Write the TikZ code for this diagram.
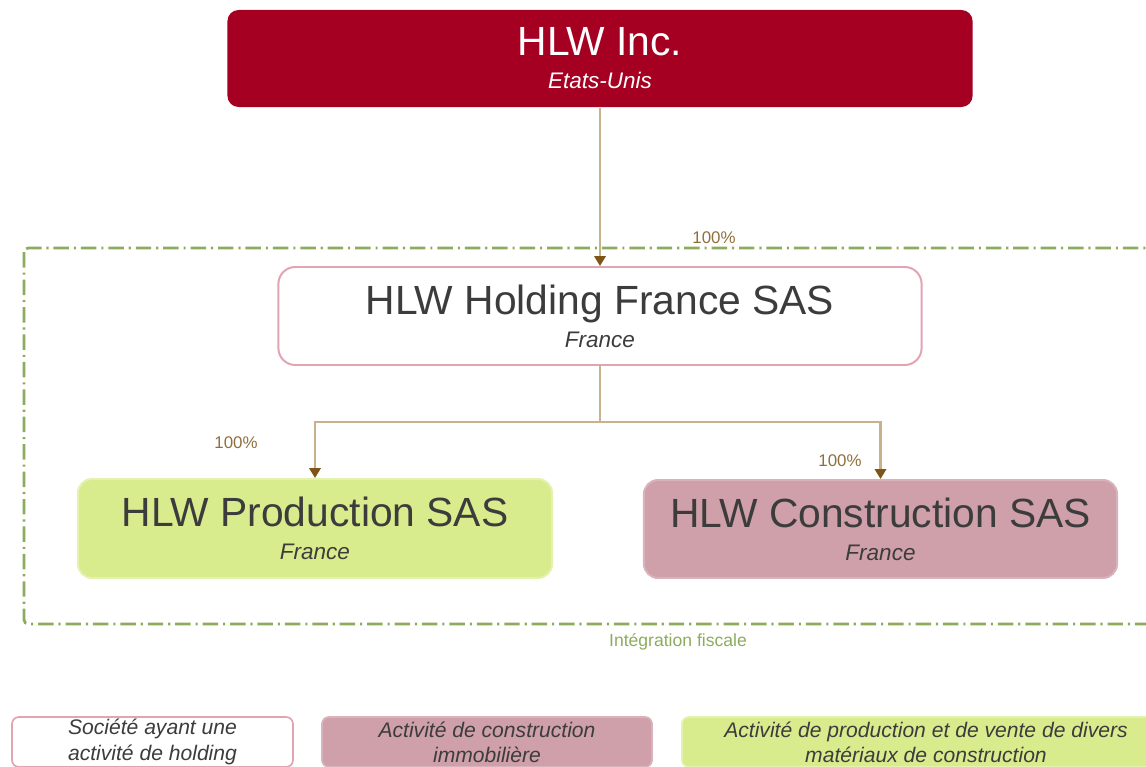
\documentclass[tikz,border=0pt]{standalone}
\usepackage{fontspec}
\setmainfont{Liberation Sans}
\usetikzlibrary{arrows.meta,positioning}

\definecolor{hlwred}{HTML}{A50021}
\definecolor{holdpink}{HTML}{E2A3B3}
\definecolor{constpink}{HTML}{CFA0AA}
\definecolor{prodgreen}{HTML}{D8EC8E}
\definecolor{linktan}{HTML}{C8B28C}
\definecolor{tipbrown}{HTML}{7F5417}
\definecolor{pctbrown}{HTML}{8E6F3C}
\definecolor{fiscgreen}{HTML}{8DAB5C}
\definecolor{textgray}{HTML}{3C3C3C}

\newcommand{\pays}[1]{{\fontsize{16}{23}\selectfont\itshape #1}}

\begin{document}
\begin{tikzpicture}[
    x=0.025cm, y=-0.025cm,
    entity/.style={rectangle, rounded corners=10pt, inner sep=0pt,
                align=center, text=textgray, line width=1.4pt,
                font=\fontsize{29}{23.5}\selectfont},
    legendbox/.style={rectangle, rounded corners=5pt, inner sep=0pt,
                align=center, text=textgray, minimum height=1.25cm,
                line width=1.2pt, font=\fontsize{15}{18}\selectfont\itshape},
    link/.style={draw=linktan, line width=1.6pt,
                -{Triangle[width=8pt,length=7pt,color=tipbrown]}},
    pct/.style={text=pctbrown, font=\fontsize{12}{14}\selectfont},
    fiscframe/.style={draw=fiscgreen, line width=2pt, rounded corners=3pt,
                dash pattern=on 11pt off 3.5pt on 1.5pt off 3.5pt}
]
\clip (0,0) rectangle (1146,767);

% perimetre d'integration fiscale
\draw[fiscframe] (24,248) rectangle (1170,624);
\node[text=fiscgreen, font=\fontsize{12.5}{14}\selectfont] (fiscal) at (678,642) {Intégration fiscale};

% societes
\node[entity, fill=hlwred, text=white, rounded corners=8pt,
      minimum width=18.625cm, minimum height=2.425cm] (hlw) at (600,58.5)
      {HLW Inc.\\\pays{Etats-Unis}};
\node[entity, draw=holdpink, fill=white, rounded corners=12pt,
      minimum width=16.075cm, minimum height=2.45cm] (holding) at (600,316)
      {HLW Holding France SAS\\\pays{France}};
\node[entity, draw=prodgreen!70!white, fill=prodgreen,
      minimum width=11.85cm, minimum height=2.475cm] (prod) at (315,528.5)
      {HLW Production SAS\\\pays{France}};
\node[entity, draw=constpink!80!white, fill=constpink,
      minimum width=11.825cm, minimum height=2.45cm] (constr) at (880.5,529)
      {HLW Construction SAS\\\pays{France}};

% participations
\coordinate (split) at (600,422);
\draw[link] (hlw) -- (holding);
\draw[link] (holding) -- (split) -| (prod);
\draw[link] (split) -| (constr);

\node[pct] (pcthold) at (714,238) {100\%};
\node[pct] (pctprod) at (236,443) {100\%};
\node[pct] (pctconstr) at (840,461) {100\%};

% legende
\node[legendbox, draw=holdpink, fill=white, minimum width=7.025cm] (leghold) at (152.5,742)
      {Société ayant une\\activité de holding};
\node[legendbox, draw=constpink!80!white, fill=constpink, minimum width=8.25cm] (legconstr) at (487,742)
      {Activité de construction\\immobilière};
\node[legendbox, draw=prodgreen!70!white, fill=prodgreen, minimum width=12.2cm] (legprod) at (926,742)
      {Activité de production et de vente de divers\\matériaux de construction};
\end{tikzpicture}
\end{document}
